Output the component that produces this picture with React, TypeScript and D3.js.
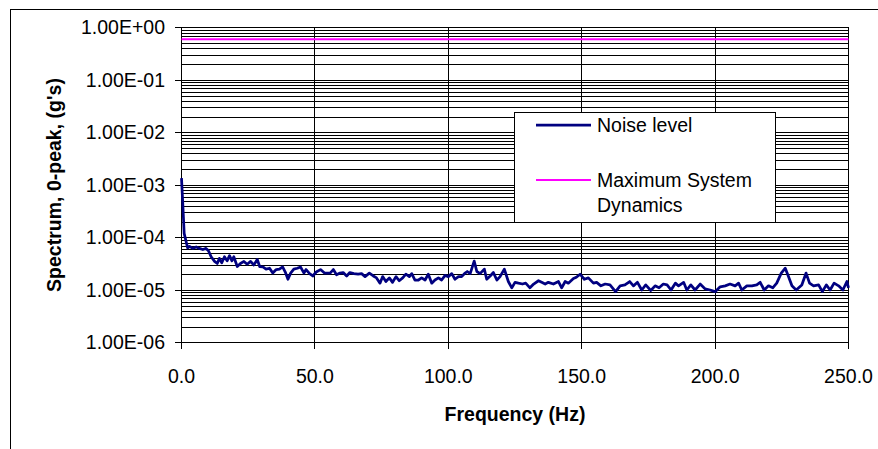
import React from "react";
import * as d3 from "d3";

// frequency (Hz) and noise level (g's, 0-peak)
const freqs = [
  0, 0.5, 1.0, 2.3, 3.0, 4.2, 5.5, 6.7, 8.0, 9.2, 10.1, 11.1, 12.4, 13.4, 14.2, 15.1, 16.1, 17.1, 18.0, 18.9,
  19.6, 20.9, 22.1, 23.4, 24.6, 25.9, 27.1, 28.4, 29.3, 30.5, 31.7, 33.0, 34.2, 35.5, 36.7, 37.9, 38.9, 39.9,
  40.9, 42.1, 43.4, 44.6, 45.9, 46.7, 48.0, 49.2, 50.5, 52.1, 53.6, 55.7, 56.9, 58.1, 59.4, 60.6, 61.9, 63.1,
  64.6, 66.2, 67.5, 68.8, 70.4, 71.9, 73.1, 74.4, 75.4, 76.6, 77.9, 79.1, 80.4, 81.6, 82.9, 84.1, 85.4, 86.3,
  87.5, 88.8, 90.0, 91.3, 92.5, 93.8, 95.0, 96.3, 97.5, 98.8, 100.0, 101.3, 102.5, 103.8, 105.0, 106.3, 107.1,
  108.2, 109.7, 110.7, 111.9, 113.5, 114.4, 115.7, 116.9, 118.2, 119.4, 121.0, 122.5, 123.8, 125.0, 126.3,
  127.8, 129.0, 130.6, 132.0, 133.8, 135.0, 136.3, 137.5, 139.4, 141.3, 142.5, 143.8, 145.0, 146.9, 148.0,
  149.4, 151.0, 152.5, 154.4, 155.6, 157.2, 158.8, 160.6, 162.7, 164.4, 166.2, 168.0, 169.4, 170.9, 172.5,
  174.0, 175.9, 177.5, 179.0, 180.6, 182.0, 183.5, 185.1, 186.3, 188.2, 189.4, 190.9, 192.5, 194.4, 196.3,
  198.1, 200.0, 201.9, 203.8, 205.6, 207.5, 208.8, 210.0, 211.9, 213.8, 215.6, 216.9, 218.4, 220.0, 221.6,
  223.1, 224.8, 226.3, 227.5, 228.8, 230.4, 232.5, 234.1, 235.4, 236.9, 238.8, 240.2, 241.7, 243.1, 244.6,
  246.3, 247.9, 249.4, 250.0,
];
const noise = [
  1.35e-3, 4.2e-4, 1.2e-4, 6.3e-5, 6.8e-5, 6.2e-5, 6.6e-5, 6.2e-5, 5.9e-5, 6.2e-5, 5.6e-5, 4.3e-5, 3.5e-5, 3.2e-5, 4.0e-5, 3.3e-5, 4.3e-5, 3.6e-5, 4.5e-5, 3.6e-5,
  4.3e-5, 2.8e-5, 3.2e-5, 3.5e-5, 3.1e-5, 3.5e-5, 3.0e-5, 3.8e-5, 2.8e-5, 2.75e-5, 2.5e-5, 2.6e-5, 2.1e-5, 2.45e-5, 2.5e-5, 2.75e-5, 2.2e-5, 1.6e-5,
  2.1e-5, 2.5e-5, 2.6e-5, 2.75e-5, 2.1e-5, 2.45e-5, 2.05e-5, 1.85e-5, 2.2e-5, 2.45e-5, 2.1e-5, 2.1e-5, 2.45e-5, 1.95e-5, 2.1e-5, 2.15e-5, 1.85e-5, 2.15e-5,
  2.05e-5, 2.0e-5, 2.05e-5, 1.8e-5, 2.1e-5, 1.85e-5, 1.7e-5, 1.35e-5, 1.8e-5, 1.45e-5, 1.7e-5, 1.4e-5, 1.8e-5, 1.5e-5, 1.7e-5, 2.0e-5, 1.8e-5, 2.05e-5,
  1.55e-5, 1.55e-5, 1.7e-5, 1.55e-5, 2.0e-5, 1.35e-5, 1.55e-5, 1.7e-5, 1.55e-5, 1.9e-5, 1.8e-5, 2.05e-5, 1.6e-5, 1.8e-5, 1.8e-5, 2.1e-5, 2.25e-5,
  2.05e-5, 3.55e-5, 2.25e-5, 2.05e-5, 2.5e-5, 1.6e-5, 1.85e-5, 2.15e-5, 1.55e-5, 1.8e-5, 2.5e-5, 1.45e-5, 1.1e-5, 1.4e-5, 1.35e-5,
  1.3e-5, 1.35e-5, 1.1e-5, 1.3e-5, 1.5e-5, 1.4e-5, 1.3e-5, 1.4e-5, 1.3e-5, 1.45e-5, 1.1e-5, 1.45e-5, 1.35e-5, 1.65e-5, 1.75e-5,
  2.0e-5, 1.6e-5, 1.7e-5, 1.35e-5, 1.4e-5, 1.2e-5, 1.3e-5, 1.25e-5, 9.3e-6, 1.2e-5, 1.25e-5, 1.45e-5, 1.2e-5, 1.4e-5, 1.0e-5,
  1.25e-5, 9.8e-6, 1.2e-5, 1.1e-5, 1.3e-5, 1.25e-5, 1.0e-5, 1.35e-5, 1.2e-5, 1.4e-5, 1.0e-5, 1.25e-5, 1.0e-5, 1.3e-5, 1.05e-5,
  1.0e-5, 9.3e-6, 1.15e-5, 1.2e-5, 1.3e-5, 1.2e-5, 1.35e-5, 1.0e-5, 1.2e-5, 1.2e-5, 1.25e-5, 1.4e-5, 1.0e-5, 1.2e-5, 1.1e-5,
  1.35e-5, 2.1e-5, 2.6e-5, 1.8e-5, 1.2e-5, 1.0e-5, 1.25e-5, 2.1e-5, 1.35e-5, 1.2e-5, 1.25e-5, 9.3e-6, 1.25e-5, 1.0e-5, 1.35e-5,
  1.2e-5, 1.0e-5, 1.45e-5, 1.1e-5,
];
const maxDynamics = 0.6;

const xTicks = [0, 50, 100, 150, 200, 250];
const yTicks = [1, 1e-1, 1e-2, 1e-3, 1e-4, 1e-5, 1e-6];
const yTickLabels = ["1.00E+00", "1.00E-01", "1.00E-02", "1.00E-03", "1.00E-04", "1.00E-05", "1.00E-06"];
const seriesNames = ["Noise level", "Maximum System", "Dynamics"];

const width = 878, height = 449;
const font = "'Liberation Sans', Arial, sans-serif";

export default function App() {
  const x = d3.scaleLinear().domain([0, 250]).range([181.5, 848.5]);
  const y = d3.scaleLog().domain([1e-6, 1]).range([342.5, 27.5]);

  const minor: number[] = [];
  for (let e = -6; e < 0; e++) {
    for (let m = 2; m <= 9; m++) minor.push(m * Math.pow(10, e));
  }

  const pts: [number, number][] = freqs.map((f, i) => [f, noise[i]]);
  const line = d3.line<[number, number]>().x((d) => x(d[0])).y((d) => y(d[1]));

  const [x0, x1] = x.range();
  const [yb, yt] = y.range();

  return (
    <svg width={width} height={height} style={{ position: "absolute", left: 0, top: 0, background: "#fff" }} fontFamily={font}>
      <rect x={10.5} y={9.5} width={1000} height={600} fill="#fff" stroke="#000" />
      <g shapeRendering="crispEdges" stroke="#000" strokeWidth={1}>
        {minor.map((v) => (
          <line key={"m" + v} x1={x0} x2={x1} y1={Math.round(y(v)) + 0.5} y2={Math.round(y(v)) + 0.5} />
        ))}
        {yTicks.map((v) => (
          <line key={"y" + v} x1={x0 - 7} x2={x1} y1={y(v)} y2={y(v)} />
        ))}
        {xTicks.map((v) => (
          <line key={"x" + v} x1={x(v)} x2={x(v)} y1={yt} y2={yb + 6} />
        ))}
      </g>
      <line x1={x0} x2={x1} y1={y(maxDynamics)} y2={y(maxDynamics)} stroke="#ff00ff" strokeWidth={2} />
      <path d={line(pts) || ""} fill="none" stroke="#000080" strokeWidth={2.75} strokeLinejoin="round" />
      <g fontSize={19.5} fill="#000">
        {yTicks.map((v, i) => (
          <text key={v} x={165} y={y(v)} dy="0.35em" textAnchor="end">{yTickLabels[i]}</text>
        ))}
        {xTicks.map((v) => (
          <text key={v} x={x(v)} y={383} textAnchor="middle">{v.toFixed(1)}</text>
        ))}
      </g>
      <text x={(x0 + x1) / 2} y={421} textAnchor="middle" fontSize={19.5} fontWeight="bold">Frequency (Hz)</text>
      <text transform={`translate(61,${(yb + yt) / 2}) rotate(-90)`} textAnchor="middle" fontSize={19.5} fontWeight="bold">
        Spectrum, 0-peak, (g's)
      </text>
      <g>
        <rect x={514.5} y={112.5} width={261} height={110} fill="#fff" stroke="#000" shapeRendering="crispEdges" />
        <line x1={536} x2={591} y1={125} y2={125} stroke="#000080" strokeWidth={2.75} />
        <line x1={536} x2={591} y1={180} y2={180} stroke="#ff00ff" strokeWidth={2} />
        <g fontSize={19.5}>
          <text x={597} y={125} dy="0.35em">{seriesNames[0]}</text>
          <text x={597} y={180} dy="0.35em">{seriesNames[1]}</text>
          <text x={597} y={205} dy="0.35em">{seriesNames[2]}</text>
        </g>
      </g>
    </svg>
  );
}
